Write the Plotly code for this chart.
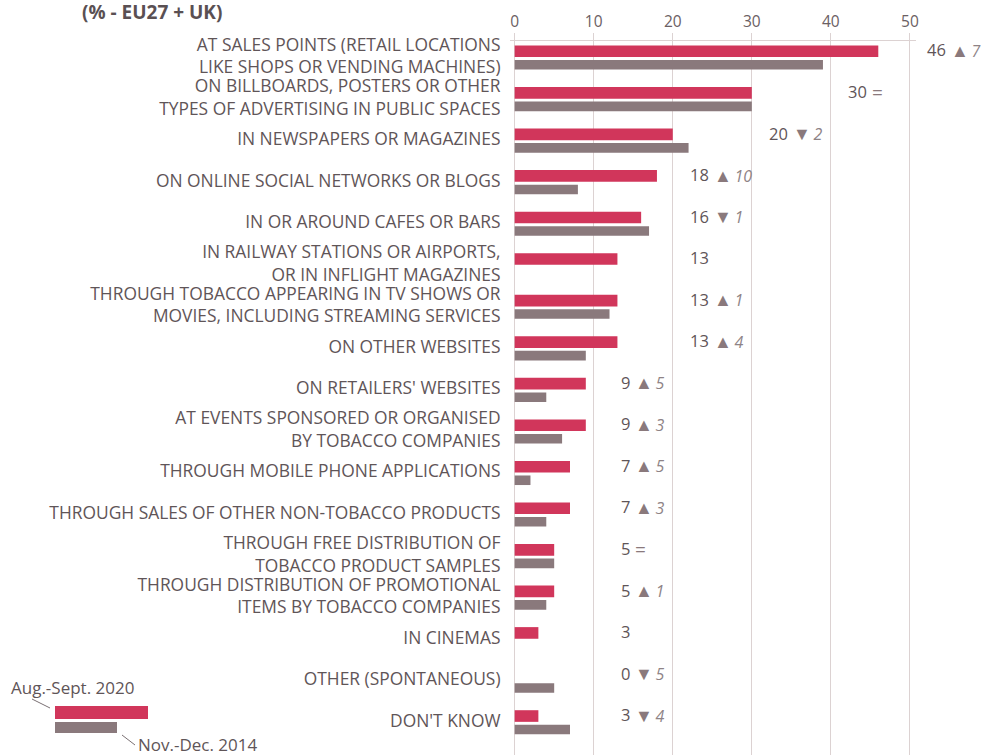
import math
import plotly.graph_objects as go

categories = [
    "AT SALES POINTS (RETAIL LOCATIONS<br>LIKE SHOPS OR VENDING MACHINES)",
    "ON BILLBOARDS, POSTERS OR OTHER<br>TYPES OF ADVERTISING IN PUBLIC SPACES",
    "IN NEWSPAPERS OR MAGAZINES",
    "ON ONLINE SOCIAL NETWORKS OR BLOGS",
    "IN OR AROUND CAFES OR BARS",
    "IN RAILWAY STATIONS OR AIRPORTS,<br>OR IN INFLIGHT MAGAZINES",
    "THROUGH TOBACCO APPEARING IN TV SHOWS OR<br>MOVIES, INCLUDING STREAMING SERVICES",
    "ON OTHER WEBSITES",
    "ON RETAILERS' WEBSITES",
    "AT EVENTS SPONSORED OR ORGANISED<br>BY TOBACCO COMPANIES",
    "THROUGH MOBILE PHONE APPLICATIONS",
    "THROUGH SALES OF OTHER NON-TOBACCO PRODUCTS",
    "THROUGH FREE DISTRIBUTION OF<br>TOBACCO PRODUCT SAMPLES",
    "THROUGH DISTRIBUTION OF PROMOTIONAL<br>ITEMS BY TOBACCO COMPANIES",
    "IN CINEMAS",
    "OTHER (SPONTANEOUS)",
    "DON'T KNOW",
]
values_2020 = [46, 30, 20, 18, 16, 13, 13, 13, 9, 9, 7, 7, 5, 5, 3, 0, 3]
values_2014 = [39, 30, 22, 8, 17, None, 12, 9, 4, 6, 2, 4, 5, 4, None, 5, 7]
x_ticks = [0, 10, 20, 30, 40, 50]
series_names = ["Aug.-Sept. 2020", "Nov.-Dec. 2014"]
title_text = "(% - EU27 + UK)"

# ---- styling / layout constants ----
W, H = 981, 755
ML, MR, MT, MB = 510, 65, 41, 0
PW, PH = W - ML - MR, H - MT - MB
XR = [-0.59, 50.77]
YR = [16.83, -0.356]
RED = "#D1365B"
GREY = "#8A797C"
TXT = "#5F5558"
GRID = "#DCD2D2"
FONT = "Open Sans"

def px_x(px):
    return (px - ML) / PW

def px_y(py):
    return (H - MB - py) / PH

def dx_paper(v):
    return (v - XR[0]) / (XR[1] - XR[0])

fig = go.Figure()
fig.add_trace(go.Bar(
    y=categories, x=values_2020, orientation="h", name=series_names[0],
    width=0.28, offset=-0.248, marker=dict(color=RED, line=dict(width=0)),
    showlegend=False,
))
fig.add_trace(go.Bar(
    y=categories, x=values_2014, orientation="h", name=series_names[1],
    width=0.23, offset=0.102, marker=dict(color=GREY, line=dict(width=0)),
    showlegend=False,
))

annotations = []
for i, (cat, v1, v0) in enumerate(zip(categories, values_2020, values_2014)):
    top = max(v1, v0 if v0 is not None else 0)
    bucket = math.floor(top / 10) * 10 + 10
    xr = bucket + 4.8
    yl = i - 0.14
    annotations.append(dict(
        x=dx_paper(xr), y=yl, xref="paper", yref="y", text=str(v1),
        showarrow=False, xanchor="right", yanchor="middle",
        font=dict(size=16.5, color=TXT, family=FONT),
    ))
    if v0 is not None:
        d = v1 - v0
        if d > 0:
            t = f"<span style='color:{GREY};font-size:18px'>▲</span>\u2009<i>{d}</i>"
        elif d < 0:
            t = f"<span style='color:{GREY};font-size:18px'>▼</span>\u2009<i>{-d}</i>"
        else:
            t = f"<span style='color:{GREY};font-size:19px'>=</span>"
        annotations.append(dict(
            x=dx_paper(xr + 0.15), y=yl, xref="paper", yref="y", text=t,
            showarrow=False, xanchor="left", yanchor="middle",
            font=dict(size=16, color="#8E8386", family=FONT),
        ))

# title
annotations.append(dict(
    x=px_x(80), y=px_y(12), xref="paper", yref="paper", text=f"<b>{title_text}</b>",
    showarrow=False, xanchor="left", yanchor="middle",
    font=dict(size=19, color="#5A5053", family=FONT),
))
# custom legend texts
annotations.append(dict(
    x=px_x(9), y=px_y(687), xref="paper", yref="paper", text=series_names[0],
    showarrow=False, xanchor="left", yanchor="middle",
    font=dict(size=17, color=TXT, family=FONT),
))
annotations.append(dict(
    x=px_x(136), y=px_y(744), xref="paper", yref="paper", text=series_names[1],
    showarrow=False, xanchor="left", yanchor="middle",
    font=dict(size=17, color=TXT, family=FONT),
))

shapes = [
    dict(type="rect", xref="paper", yref="paper", x0=px_x(55), x1=px_x(148),
         y0=px_y(719), y1=px_y(706), fillcolor=RED, line=dict(width=0)),
    dict(type="rect", xref="paper", yref="paper", x0=px_x(55), x1=px_x(117),
         y0=px_y(733), y1=px_y(722), fillcolor=GREY, line=dict(width=0)),
    dict(type="line", xref="paper", yref="paper", x0=px_x(32), x1=px_x(50),
         y0=px_y(699), y1=px_y(708), line=dict(color="#7A7073", width=1)),
    dict(type="line", xref="paper", yref="paper", x0=px_x(122), x1=px_x(135),
         y0=px_y(735), y1=px_y(745), line=dict(color="#7A7073", width=1)),
]

fig.update_layout(
    width=W, height=H,
    margin=dict(l=ML, r=MR, t=MT, b=MB, pad=0),
    paper_bgcolor="white", plot_bgcolor="white",
    font=dict(family=FONT, color=TXT),
    barmode="overlay",
    annotations=annotations,
    shapes=shapes,
    xaxis=dict(
        side="top", range=XR, tickvals=x_ticks,
        showgrid=True, gridcolor=GRID, gridwidth=1,
        showline=True, linecolor=GRID, linewidth=1,
        ticks="outside", ticklen=7, tickcolor=GRID,
        tickfont=dict(size=15.5, color="#6B6063", family=FONT),
        zeroline=False, fixedrange=True,
    ),
    yaxis=dict(
        range=YR, showgrid=False, showline=False, zeroline=False,
        ticks="outside", ticklen=5, tickcolor="rgba(0,0,0,0)",
        tickfont=dict(size=17.4, color=TXT, family=FONT),
        fixedrange=True,
    ),
)

fig.write_html("out.html", config={"displayModeBar": False},
               post_script="document.body.style.margin='0px';")
